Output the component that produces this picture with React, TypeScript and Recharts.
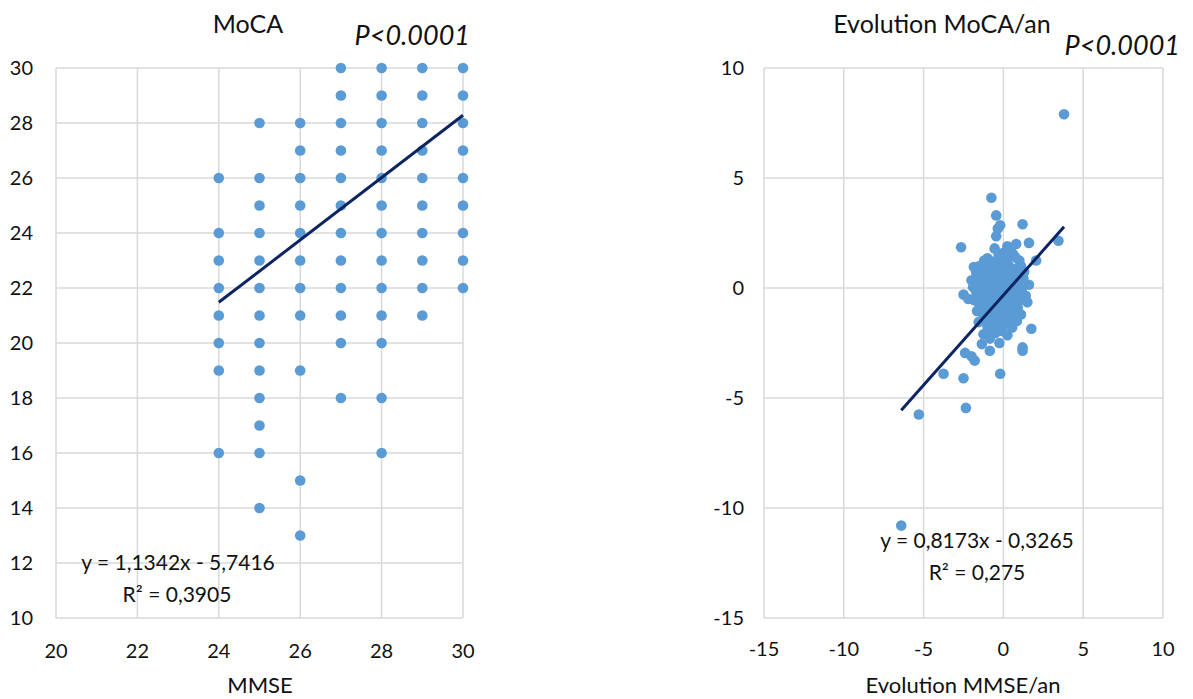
import React from 'react';
import { ScatterChart, Scatter, XAxis, YAxis, ZAxis, CartesianGrid } from 'recharts';

const DOT = '#5B9BD5';
const LINE = '#0C2461';
const GRID = '#D9D9D9';
const TXT = '#111111';
const FONT = 'Lato, "Liberation Sans", sans-serif';

// ---- Left chart: MoCA vs MMSE ----
const mmseValues = [24, 25, 26, 27, 28, 29, 30];
const mocaAt24 = [26, 24, 23, 22, 21, 20, 19, 16];
const mocaAt25 = [28, 26, 25, 24, 23, 22, 21, 20, 19, 18, 17, 16, 14];
const mocaAt26 = [28, 27, 26, 25, 24, 23, 22, 21, 19, 15, 13];
const mocaAt27 = [30, 29, 28, 27, 26, 25, 24, 23, 22, 21, 20, 18];
const mocaAt28 = [30, 29, 28, 27, 26, 25, 24, 23, 22, 21, 20, 18, 16];
const mocaAt29 = [30, 29, 28, 27, 26, 25, 24, 23, 22, 21];
const mocaAt30 = [30, 29, 28, 27, 26, 25, 24, 23, 22];
const mocaByMmse = [mocaAt24, mocaAt25, mocaAt26, mocaAt27, mocaAt28, mocaAt29, mocaAt30];
const leftTrendX = [24, 30];
const leftTrendY = [21.48, 28.28];
const leftXTicks = [20, 22, 24, 26, 28, 30];
const leftYTicks = [10, 12, 14, 16, 18, 20, 22, 24, 26, 28, 30];

// ---- Right chart: yearly evolution ----
const evoPoints: [number, number][] = [
  [-6.4, -10.8], [-5.3, -5.75], [-2.35, -5.45], [-3.75, -3.9], [-2.5, -4.1], [-0.2, -3.9],
  [-2.4, -2.95], [-2.0, -3.1], [-1.8, -3.3], [-0.85, -2.85], [1.2, -2.85], [1.75, -1.85],
  [-1.35, -2.55], [-0.25, -2.5], [-2.65, 1.85], [-0.75, 4.1], [-0.45, 3.3], [-0.2, 2.85],
  [-0.35, 2.7], [-0.45, 2.35], [1.2, 2.9], [1.6, 2.05], [2.05, 1.25], [3.45, 2.15], [3.8, 7.9],
  [-1.2, 1.25], [-1.85, 0.95], [0.8, 2.0], [0.45, 1.75], [0.0, 1.6], [1.0, 1.25], [-0.25, 1.3],
  [-2.5, -0.3], [-2.2, -0.5], [1.6, 0.15], [1.4, -0.35], [1.5, -0.65], [-1.65, -1.05],
  [-1.55, -1.55], [-1.25, -2.1], [0.55, -1.8], [0.25, -2.15], [-0.85, -2.3], [1.2, -2.7],
  [-0.55, 1.8], [-0.3, 1.55], [0.25, 1.9], [0.6, 1.55],
  [-1.0, 1.35], [-0.65, 1.2], [0.3, 1.35], [0.75, 1.4],
  [-1.5, 1.0], [-1.05, 0.95], [-0.55, 0.9], [-0.15, 1.05], [0.35, 1.0], [0.7, 0.85], [1.1, 1.0],
  [-1.7, 0.7], [-1.25, 0.65], [-0.8, 0.75], [-0.4, 0.6], [0.05, 0.7], [0.45, 0.65], [0.9, 0.6], [1.3, 0.75],
  [-2.0, 0.35], [-1.55, 0.4], [-1.1, 0.45], [-0.7, 0.35], [-0.3, 0.4], [0.15, 0.45], [0.55, 0.35], [0.95, 0.3], [1.25, 0.45],
  [-1.9, 0.05], [-1.45, 0.1], [-1.0, 0.15], [-0.6, 0.05], [-0.2, 0.1], [0.2, 0.0], [0.6, 0.1], [1.0, 0.05],
  [-1.7, -0.2], [-1.25, -0.25], [-0.85, -0.15], [-0.45, -0.2], [-0.05, -0.3], [0.4, -0.2], [0.8, -0.25], [1.15, -0.15],
  [-1.85, -0.55], [-1.4, -0.5], [-1.0, -0.45], [-0.6, -0.55], [-0.2, -0.5], [0.25, -0.6], [0.65, -0.5], [1.05, -0.55],
  [-1.5, -0.8], [-1.15, -0.85], [-0.75, -0.8], [-0.35, -0.9], [0.05, -0.8], [0.5, -0.85], [0.9, -0.9],
  [-1.3, -1.15], [-0.9, -1.1], [-0.5, -1.2], [-0.1, -1.05], [0.3, -1.15], [0.7, -1.1], [1.1, -1.2],
  [-1.15, -1.45], [-0.75, -1.4], [-0.35, -1.5], [0.05, -1.4], [0.45, -1.45], [0.85, -1.5],
  [-1.0, -1.75], [-0.6, -1.7], [-0.2, -1.8], [0.2, -1.65],
  [-0.9, -2.0], [-0.5, -2.05], [-0.1, -1.95],
];
const rightTrendX = [-6.4, 3.8];
const rightTrendY = [-5.56, 2.78];
const rightTicks = [-15, -10, -5, 0, 5, 10];

const leftData = mmseValues.flatMap((x, i) => mocaByMmse[i].map((y) => ({ x, y })));
const leftTrend = leftTrendX.map((x, i) => ({ x, y: leftTrendY[i] }));
const rightData = evoPoints.map(([x, y]) => ({ x, y }));
const rightTrend = rightTrendX.map((x, i) => ({ x, y: rightTrendY[i] }));

const tickStyle = { fill: TXT, fontSize: 20, fontFamily: FONT };
const noShape = () => <g />;
const dotShape = (p: any) => <circle cx={p.cx} cy={p.cy} r={5.3} fill={DOT} />;

export default function App() {
  return (
    <div style={{ position: 'absolute', left: 0, top: 0, width: 1193, height: 699, background: '#fff', fontFamily: FONT }}>
      <div style={{ position: 'absolute', left: 0, top: 0 }}>
        <ScatterChart width={480} height={699} margin={{ top: 68, right: 17, bottom: 41, left: 0 }}>
          <CartesianGrid stroke={GRID} strokeWidth={1.5} />
          <XAxis type="number" dataKey="x" domain={[20, 30]} ticks={leftXTicks} interval={0}
            axisLine={false} tickLine={false} tickSize={0} tickMargin={26} height={40} tick={tickStyle} />
          <YAxis type="number" dataKey="y" domain={[10, 30]} ticks={leftYTicks} interval={0} width={56}
            axisLine={false} tickLine={false} tickSize={0} tickMargin={23} tick={tickStyle} />
          <ZAxis range={[90, 90]} />
          <Scatter data={leftData} fill={DOT} shape={dotShape} isAnimationActive={false} />
          <Scatter data={leftTrend} fill={LINE} line={{ stroke: LINE, strokeWidth: 3 }} shape={noShape} isAnimationActive={false} />
        </ScatterChart>
      </div>
      <div style={{ position: 'absolute', left: 700, top: 0 }}>
        <ScatterChart width={493} height={699} margin={{ top: 68, right: 30, bottom: 41, left: 0 }}>
          <CartesianGrid stroke={GRID} strokeWidth={1.5} />
          <XAxis type="number" dataKey="x" domain={[-15, 10]} ticks={rightTicks} interval={0}
            axisLine={false} tickLine={false} tickSize={0} tickMargin={24} height={40} tick={tickStyle} />
          <YAxis type="number" dataKey="y" domain={[-15, 10]} ticks={rightTicks} interval={0} width={64}
            axisLine={false} tickLine={false} tickSize={0} tickMargin={20} tick={tickStyle} />
          <ZAxis range={[90, 90]} />
          <Scatter data={rightData} fill={DOT} shape={dotShape} isAnimationActive={false} />
          <Scatter data={rightTrend} fill={LINE} line={{ stroke: LINE, strokeWidth: 3 }} shape={noShape} isAnimationActive={false} />
        </ScatterChart>
      </div>
      <svg width={1193} height={699} style={{ position: 'absolute', left: 0, top: 0, pointerEvents: 'none' }}>
        <g fontFamily={FONT} fill={TXT}>
          <text x={248} y={33} fontSize={25} textAnchor="middle">MoCA</text>
          <text x={470} y={45} fontSize={27} fontStyle="italic" textAnchor="end">P&lt;0.0001</text>
          <text x={942} y={33} fontSize={25} textAnchor="middle">Evolution MoCA/an</text>
          <text x={1180} y={55} fontSize={27} fontStyle="italic" textAnchor="end">P&lt;0.0001</text>
          <text x={178} y={570} fontSize={21} textAnchor="middle">y = 1,1342x - 5,7416</text>
          <text x={177} y={602} fontSize={21} textAnchor="middle">R² = 0,3905</text>
          <text x={977} y={548} fontSize={21} textAnchor="middle">y = 0,8173x - 0,3265</text>
          <text x={977} y={580} fontSize={21} textAnchor="middle">R² = 0,275</text>
          <text x={260} y={693} fontSize={22} textAnchor="middle">MMSE</text>
          <text x={963} y={693} fontSize={22} textAnchor="middle">Evolution MMSE/an</text>
        </g>
      </svg>
    </div>
  );
}
